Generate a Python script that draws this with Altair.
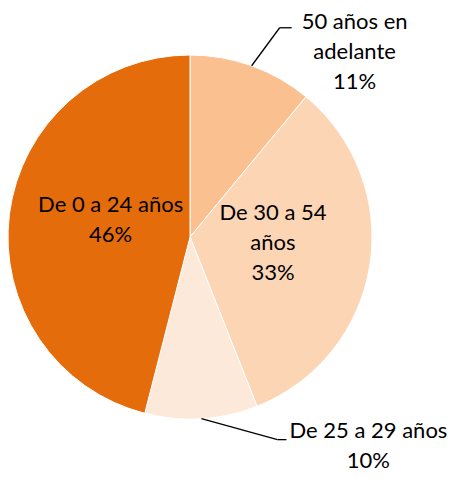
import altair as alt
import pandas as pd

categories = ["50 años en adelante", "De 30 a 54 años", "De 25 a 29 años", "De 0 a 24 años"]
label_text = ["50 años en\nadelante", "De 30 a 54\naños", "De 25 a 29 años", "De 0 a 24 años"]
values = [11, 33, 10, 46]
colors = ["#FAC090", "#FCD5B5", "#FDE9D9", "#E46C0A"]

df = pd.DataFrame({
    "idx": list(range(len(categories))),
    "cat": categories,
    "lab": label_text,
    "value": values,
})

CX, CY, R = 182, 229, 182
LH = 30

base = alt.Chart(df).transform_joinaggregate(
    total="sum(value)"
).transform_window(
    cum="sum(value)", sort=[alt.SortField("idx", order="ascending")], frame=[None, 0]
).transform_calculate(
    mid=f"(datum.cum - datum.value/2)/datum.total*2*PI",
    txt="datum.lab + '\\n' + format(datum.value/datum.total, '.0%')",
)

pie = alt.Chart(df).mark_arc(radius=R, stroke="white", strokeWidth=1).encode(
    theta=alt.Theta("value:Q", stack=True),
    order=alt.Order("idx:Q"),
    color=alt.Color("cat:N", scale=alt.Scale(domain=categories, range=colors), legend=None),
    x=alt.value(CX),
    y=alt.value(CY),
)

# label placement: (radius from centre, dx, dy, number of lines) per category
place = {
    "50 años en adelante": (R, 103, -14, 3),
    "De 30 a 54 años": (84, 0, -7, 3),
    "De 25 a 29 años": (R, 167, 27, 2),
    "De 0 a 24 años": (80, 0, -7, 2),
}

layers = [pie]
for cat, (rr, dx, dy, nl) in place.items():
    shift = dy - (nl - 1) * LH / 2
    t = base.transform_filter(alt.datum.cat == cat).transform_calculate(
        px=f"{CX} + {rr}*sin(datum.mid) + {dx}",
        py=f"{CY} - {rr}*cos(datum.mid) + {shift}",
    ).mark_text(
        lineBreak="\n", fontSize=22, font="Lato", color="#000000",
        align="center", baseline="middle", lineHeight=LH,
    ).encode(
        x=alt.X("px:Q", scale=None, axis=None),
        y=alt.Y("py:Q", scale=None, axis=None),
        text="txt:N",
    )
    layers.append(t)

# leader lines: (elbow dx, elbow dy, horizontal length)
leaders = {
    "50 años en adelante": (28, -38, 12),
    "De 25 a 29 años": (76, 21, 9),
}
for cat, (ex, ey, hl) in leaders.items():
    lb = base.transform_filter(alt.datum.cat == cat).transform_calculate(
        x1=f"{CX} + {R}*sin(datum.mid)",
        y1=f"{CY} - {R}*cos(datum.mid)",
    ).transform_calculate(
        x2=f"datum.x1 + {ex}",
        y2=f"datum.y1 + {ey}",
    ).transform_calculate(
        x3=f"datum.x2 + {hl}",
    )
    seg1 = lb.mark_rule(color="#000000", strokeWidth=1.3).encode(
        x=alt.X("x1:Q", scale=None, axis=None),
        y=alt.Y("y1:Q", scale=None, axis=None),
        x2="x2:Q",
        y2="y2:Q",
    )
    seg2 = lb.mark_rule(color="#000000", strokeWidth=1.3).encode(
        x=alt.X("x2:Q", scale=None, axis=None),
        y=alt.Y("y2:Q", scale=None, axis=None),
        x2="x3:Q",
        y2="y2:Q",
    )
    layers += [seg1, seg2]

chart = alt.layer(*layers).properties(
    width=443, height=466, padding=0, autosize=alt.AutoSizeParams(type="none")
).configure_view(stroke=None)

chart.save("out.html", embed_options={"renderer": "svg", "actions": False})
